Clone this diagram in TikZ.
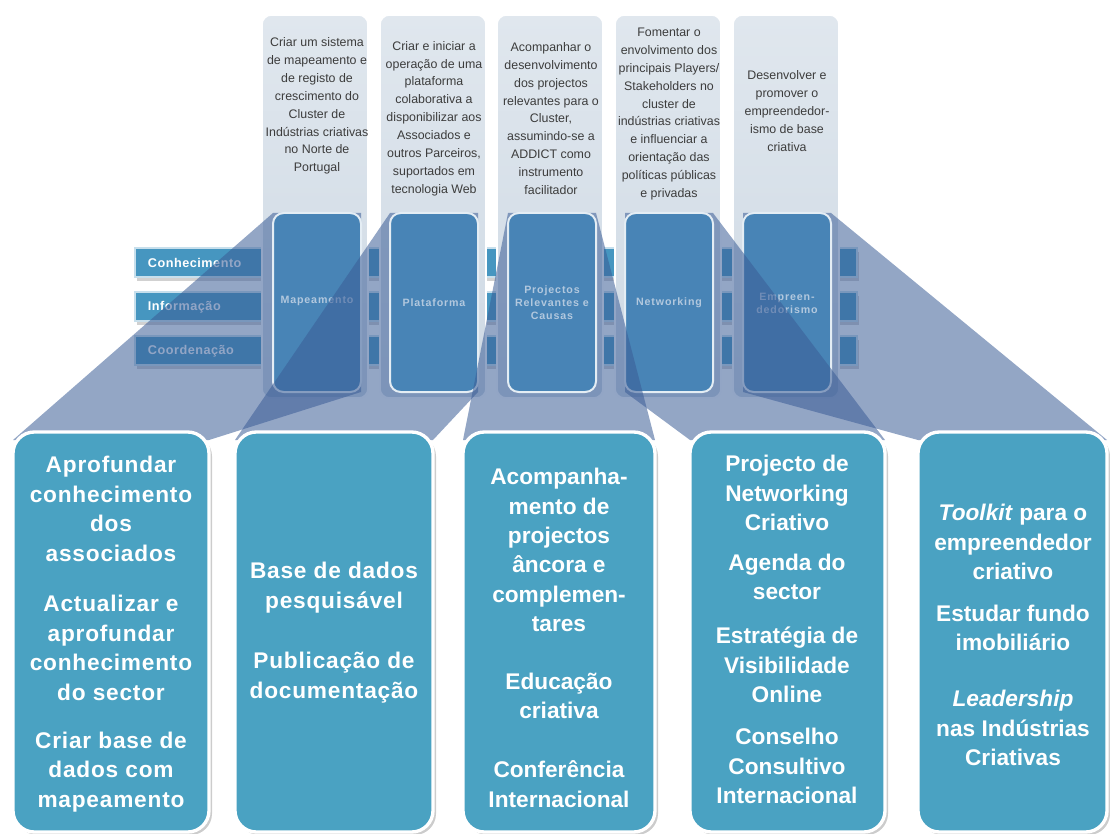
\documentclass[tikz,border=0pt]{standalone}
\usepackage{fontspec}
\setmainfont{Liberation Sans}
\newfontfamily\barfont[LetterSpace=4]{Liberation Sans}
\newfontfamily\pillarfont[LetterSpace=8]{Liberation Sans}
\newfontfamily\goalwidefont[LetterSpace=3.5]{Liberation Sans}

\definecolor{panelTop}{RGB}{224,231,238}
\definecolor{panelBot}{RGB}{206,217,228}
\definecolor{pillarBlue}{RGB}{72,132,182}
\definecolor{barBlue}{RGB}{70,150,192}
\definecolor{beamBlue}{RGB}{58,92,150}
\definecolor{tealBox}{RGB}{74,162,194}
\definecolor{pillarText}{RGB}{178,200,222}
\definecolor{aimText}{RGB}{60,60,60}

\tikzset{every picture/.style={line width=0.75pt}}
\tikzset{
  panel/.style={draw=white, line width=1.2, rounded corners=7, top color=panelTop, bottom color=panelBot},
  bar/.style={draw=white!70!barBlue, line width=0.8, fill=barBlue},
  barshadow/.style={fill=black!18},
  pillar/.style={draw=white!85!pillarBlue, line width=1.5, rounded corners=8, fill=pillarBlue},
  beam/.style={fill=beamBlue, fill opacity=0.55},
  goalbox/.style={draw=white, line width=2.5, rounded corners=16, fill=tealBox},
  goalshadow/.style={fill=black!40, fill opacity=0.5, rounded corners=16},
  aim/.style={text=aimText, align=center, font=\fontsize{9.3}{13.4}\selectfont},
  barlabel/.style={text=white, anchor=west, font=\barfont\bfseries\fontsize{9.5}{11}\selectfont},
  pillarlabel/.style={text=pillarText, align=center, font=\pillarfont\bfseries\fontsize{8}{9.8}\selectfont},
  goaltext/.style={text=white, align=center, font=\bfseries\fontsize{17}{22}\selectfont},
  goalwide/.style={goaltext, font=\goalwidefont\bfseries\fontsize{17}{22.3}\selectfont}
}

\begin{document}
\begin{tikzpicture}[x=0.75pt,y=0.75pt,yscale=-1,xscale=1]
\path[use as bounding box] (0,0) rectangle (1110,834);
\clip (0,0) rectangle (1110,834);

%Bars (behind the panels)
\foreach \by in {248,292,336} {
  \fill[barshadow] (137,\by+4) rectangle (859,\by+33);
  \draw[bar] (135,\by) rectangle (857,\by+29);
}

% Text Node
\draw (143,263) node[barlabel] (conh) {Conhecimento};
% Text Node
\draw (143,307) node[barlabel] (info) {Informação};
% Text Node
\draw (143,351) node[barlabel] (coord) {Coordenação};

%Panels
\foreach \px in {262,380,497,615,733} {
  \draw[panel] (\px,15) rectangle ++(106,383);
}

% Text Node
\draw (317,106) node[aim] (aim1) {Criar um sistema\\de mapeamento e\\de registo de\\crescimento do\\Cluster de\\Indústrias criativas\\no Norte de\\Portugal};
% Text Node
\draw (434,118.5) node[aim] (aim2) {Criar e iniciar a\\operação de uma\\plataforma\\colaborativa a\\disponibilizar aos\\Associados e\\outros Parceiros,\\suportados em\\tecnologia Web};
% Text Node
\draw (551,118.5) node[aim] (aim3) {Acompanhar o\\desenvolvimento\\dos projectos\\relevantes para o\\Cluster,\\assumindo-se a\\ADDICT como\\instrumento\\facilitador};
% Text Node
\draw (669,114) node[aim] (aim4) {Fomentar o\\envolvimento dos\\principais Players/\\Stakeholders no\\cluster de\\indústrias criativas\\e influenciar a\\orientação das\\políticas públicas\\e privadas};
% Text Node
\draw (787,111) node[aim] (aim5) {Desenvolver e\\promover o\\empreendedor-\\ismo de base\\criativa};

%Beam and pillar 1
\fill[beam] (273,213) -- (361,213) -- (361,392) -- (209,440) -- (13,440) -- cycle;
\draw[pillar] (273,213) rectangle ++(88,179);
% Text Node
\draw (317,301) node[pillarlabel] (mapa) {Mapeamento};

%Beam and pillar 5
\fill[beam] (743,213) -- (831,213) -- (1107,440) -- (918,440) -- (743,392) -- cycle;
\draw[pillar] (743,213) rectangle ++(88,179);
% Text Node
\draw (787,303) node[pillarlabel] (empr) {Empreen-\\dedorismo};

%Beam and pillar 2
\fill[beam] (390,213) -- (478,213) -- (478,392) -- (433,440) -- (235,440) -- cycle;
\draw[pillar] (390,213) rectangle ++(88,179);
% Text Node
\draw (434,303) node[pillarlabel] (plat) {Plataforma};

%Beam and pillar 4
\fill[beam] (625,213) -- (713,213) -- (885,440) -- (690,440) -- (625,392) -- cycle;
\draw[pillar] (625,213) rectangle ++(88,179);
% Text Node
\draw (669,303) node[pillarlabel] (netw) {Networking};

%Beam and pillar 3
\fill[beam] (508,213) -- (596,213) -- (655,440) -- (463,440) -- cycle;
\draw[pillar] (508,213) rectangle ++(88,179);
% Text Node
\draw (552,303) node[pillarlabel] (proj) {Projectos\\Relevantes e\\Causas};

%Goal boxes
\foreach \gx/\gw in {13/196,235/198,463/192,690/195,918/189} {
  \fill[goalshadow] (\gx+3,435) rectangle ++(\gw,400);
  \draw[goalbox] (\gx,432) rectangle ++(\gw,400);
}

% Text Node
\draw (111,509) node[goalwide] (g11) {Aprofundar\\conhecimento\\dos\\associados};
% Text Node
\draw (111,648) node[goalwide] (g12) {Actualizar e\\aprofundar\\conhecimento\\do sector};
% Text Node
\draw (111,772) node[goalwide] (g13) {Criar base de\\dados com\\mapeamento};

% Text Node
\draw (334,588) node[goalwide] (g21) {Base de dados\\pesquisável};
% Text Node
\draw (334,678) node[goalwide] (g22) {Publicação de\\documentação};

% Text Node
\draw (559,550) node[goaltext] (g31) {Acompanha-\\mento de\\projectos\\âncora e\\complemen-\\tares};
% Text Node
\draw (559,696) node[goaltext] (g32) {Educação\\criativa};
% Text Node
\draw (559,784) node[goaltext] (g33) {Conferência\\Internacional};

% Text Node
\draw (787,493) node[goaltext] (g41) {Projecto de\\Networking\\Criativo};
% Text Node
\draw (787,577) node[goaltext] (g42) {Agenda do\\sector};
% Text Node
\draw (787,665) node[goaltext] (g43) {Estratégia de\\Visibilidade\\Online};
% Text Node
\draw (787,766) node[goaltext] (g44) {Conselho\\Consultivo\\Internacional};

% Text Node
\draw (1013,542) node[goaltext] (g51) {\textit{Toolkit} para o\\empreendedor\\criativo};
% Text Node
\draw (1013,628) node[goaltext] (g52) {Estudar fundo\\imobiliário};
% Text Node
\draw (1013,728) node[goaltext] (g53) {\textit{Leadership}\\nas Indústrias\\Criativas};

\end{tikzpicture}
\end{document}
